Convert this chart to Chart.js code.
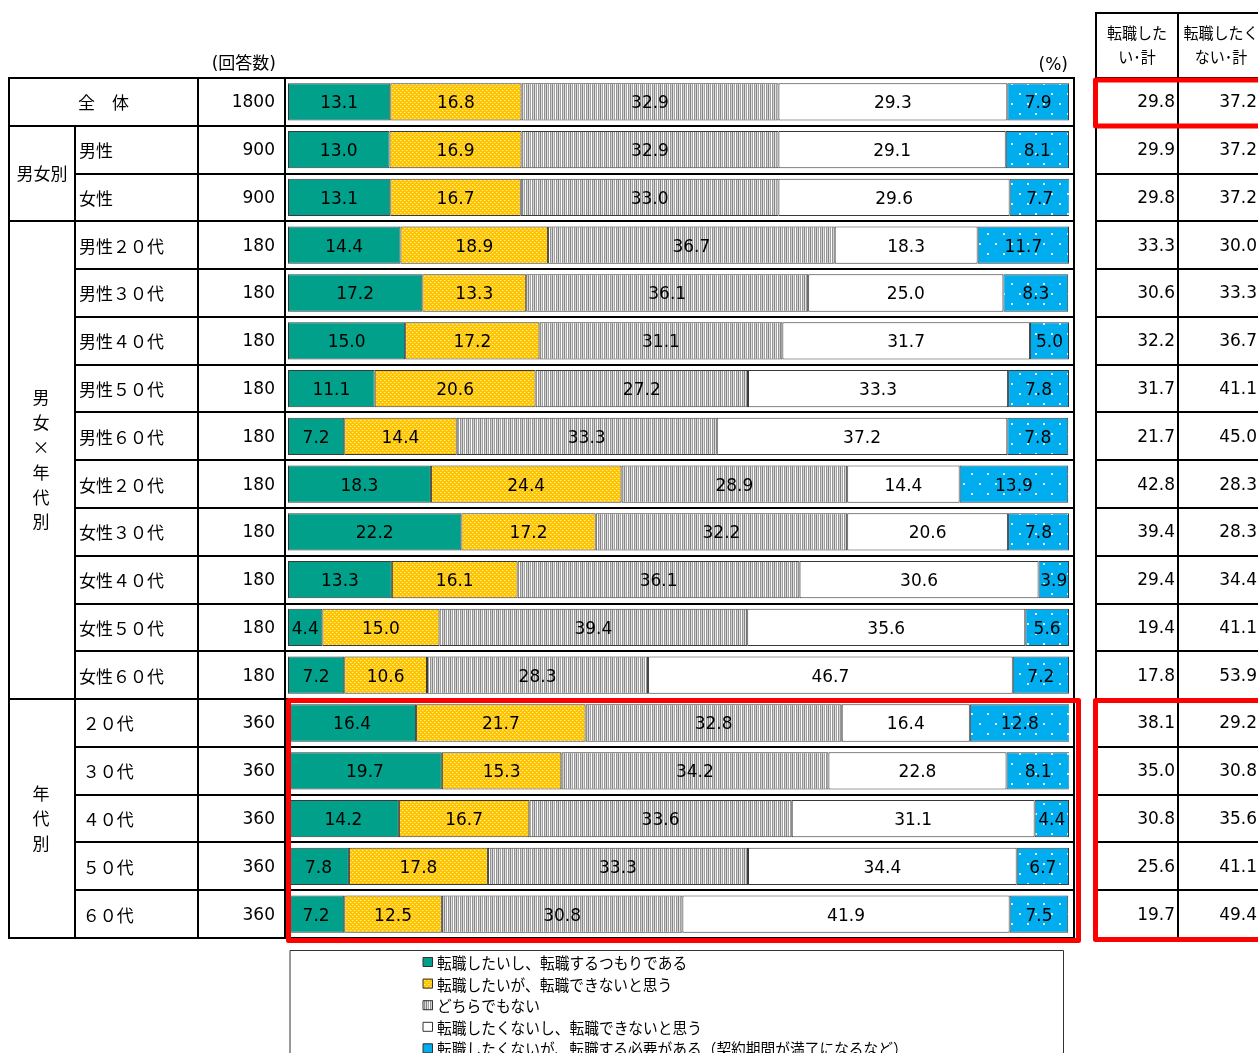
<!DOCTYPE html>
<html>
<head>
<meta charset="utf-8">
<script src="https://cdn.jsdelivr.net/npm/chart.js@4.4.1/dist/chart.umd.min.js"></script>
<style>
  html, body { margin: 0; padding: 0; background: #fff; overflow: hidden; }
  canvas { display: block; }
</style>
</head>
<body>
<canvas id="c" width="1258" height="1053"></canvas>
<script>
// ---- survey data -------------------------------------------------------
const rowLabels = ['全　体', '男性', '女性',
  '男性２０代', '男性３０代', '男性４０代', '男性５０代', '男性６０代',
  '女性２０代', '女性３０代', '女性４０代', '女性５０代', '女性６０代',
  ' ２０代', ' ３０代', ' ４０代', ' ５０代', ' ６０代'];
const respondents = [1800, 900, 900, 180, 180, 180, 180, 180, 180, 180, 180, 180, 180, 360, 360, 360, 360, 360];

const seriesLabels = [
  '転職したいし、転職するつもりである',
  '転職したいが、転職できないと思う',
  'どちらでもない',
  '転職したくないし、転職できないと思う',
  '転職したくないが、転職する必要がある（契約期間が満了になるなど）'
];
const wantAndWill      = [13.1, 13.0, 13.1, 14.4, 17.2, 15.0, 11.1, 7.2, 18.3, 22.2, 13.3, 4.4, 7.2, 16.4, 19.7, 14.2, 7.8, 7.2];
const wantButCannot    = [16.8, 16.9, 16.7, 18.9, 13.3, 17.2, 20.6, 14.4, 24.4, 17.2, 16.1, 15.0, 10.6, 21.7, 15.3, 16.7, 17.8, 12.5];
const neither          = [32.9, 32.9, 33.0, 36.7, 36.1, 31.1, 27.2, 33.3, 28.9, 32.2, 36.1, 39.4, 28.3, 32.8, 34.2, 33.6, 33.3, 30.8];
const notWantCannot    = [29.3, 29.1, 29.6, 18.3, 25.0, 31.7, 33.3, 37.2, 14.4, 20.6, 30.6, 35.6, 46.7, 16.4, 22.8, 31.1, 34.4, 41.9];
const notWantButMust   = [7.9, 8.1, 7.7, 11.7, 8.3, 5.0, 7.8, 7.8, 13.9, 7.8, 3.9, 5.6, 7.2, 12.8, 8.1, 4.4, 6.7, 7.5];

const wantTotal    = [29.8, 29.9, 29.8, 33.3, 30.6, 32.2, 31.7, 21.7, 42.8, 39.4, 29.4, 19.4, 17.8, 38.1, 35.0, 30.8, 25.6, 19.7];
const notWantTotal = [37.2, 37.2, 37.2, 30.0, 33.3, 36.7, 41.1, 45.0, 28.3, 28.3, 34.4, 41.1, 53.9, 29.2, 30.8, 35.6, 41.1, 49.4];
const totalHeaders = [['転職した', 'い･計'], ['転職したく', 'ない･計']];

const groupLabels = [
  { text: '男女別', first: 1, last: 2, vertical: false },
  { text: '男女×年代別', first: 3, last: 12, vertical: true },
  { text: '年代別', first: 13, last: 17, vertical: true }
];
const countHeader = '(回答数)';
const unitHeader = '(%)';

// ---- fills ---------------------------------------------------------------
const mainCtx = document.getElementById('c').getContext('2d');
function makePattern(w, h, draw) {
  const t = document.createElement('canvas');
  t.width = w; t.height = h;
  draw(t.getContext('2d'));
  return mainCtx.createPattern(t, 'repeat');
}
const greenFill = '#00A08A';
const yellowFill = makePattern(4, 4, g => {
  g.fillStyle = '#FFC400'; g.fillRect(0, 0, 4, 4);
  g.fillStyle = '#FFEFA8'; g.fillRect(0, 0, 1, 1); g.fillRect(2, 2, 1, 1);
  g.fillStyle = '#FFD845'; g.fillRect(1, 0, 1, 1); g.fillRect(3, 2, 1, 1);
});
const stripeFill = makePattern(6, 1, g => {
  const cols = ['#858585', '#e2e2e2', '#a0a0a0', '#ffffff', '#939393', '#d2d2d2'];
  cols.forEach((c, i) => { g.fillStyle = c; g.fillRect(i, 0, 1, 1); });
});
const whiteFill = '#ffffff';
const blueFill = makePattern(16, 20, g => {
  g.fillStyle = '#00AEEF'; g.fillRect(0, 0, 16, 20);
  g.fillStyle = '#E4F7FF'; g.fillRect(3, 3, 2, 2); g.fillRect(11, 13, 2, 2);
});
const fills = [greenFill, yellowFill, stripeFill, whiteFill, blueFill];
const seriesValues = [wantAndWill, wantButCannot, neither, notWantCannot, notWantButMust];

// ---- fonts ---------------------------------------------------------------
const NUM_FONT = '17px "DejaVu Sans", "Noto Sans CJK JP", sans-serif';
const JP_FONT = '17px "Noto Sans CJK JP", sans-serif';
const JP_SMALL = '16px "Noto Sans CJK JP", sans-serif';

// ---- table, labels and frames drawn around the bars ----------------------
const COL = { x0: 9, x1: 75, x2: 198, x3: 285, x4: 1074 };
const RT = { x0: 1096, x1: 1178, x2: 1262, top: 13 };

function hline(ctx, x1, x2, y) { ctx.beginPath(); ctx.moveTo(x1, y); ctx.lineTo(x2, y); ctx.stroke(); }
function vline(ctx, x, y1, y2) { ctx.beginPath(); ctx.moveTo(x, y1); ctx.lineTo(x, y2); ctx.stroke(); }

const valueLabels = {
  id: 'valueLabels',
  afterDatasetsDraw(chart) {
    const ctx = chart.ctx;
    ctx.save();
    ctx.font = NUM_FONT;
    ctx.fillStyle = '#000';
    ctx.textAlign = 'center';
    ctx.textBaseline = 'middle';
    chart.data.datasets.forEach((ds, di) => {
      chart.getDatasetMeta(di).data.forEach((bar, i) => {
        const cx = (bar.x + bar.base) / 2;
        ctx.fillText(ds.data[i].toFixed(1), cx, bar.y + 2);
      });
    });
    ctx.restore();
  }
};

const surveyTable = {
  id: 'surveyTable',
  afterDraw(chart) {
    const ctx = chart.ctx;
    const ys = chart.scales.y;
    const n = rowLabels.length;
    const step = ys.getPixelForValue(1) - ys.getPixelForValue(0);
    const edge = k => Math.round(ys.getPixelForValue(0) - step / 2 + k * step);
    const mid = i => ys.getPixelForValue(i);

    ctx.save();
    ctx.strokeStyle = '#000';
    ctx.lineWidth = 2;
    ctx.lineCap = 'square';

    // left table grid
    const groupStarts = new Set([0, 1, ...groupLabels.map(g => g.first), n]);
    for (let k = 0; k <= n; k++) {
      hline(ctx, groupStarts.has(k) ? COL.x0 : COL.x1, COL.x4, edge(k));
    }
    vline(ctx, COL.x0, edge(0), edge(n));
    vline(ctx, COL.x1, edge(1), edge(n));
    vline(ctx, COL.x2, edge(0), edge(n));
    vline(ctx, COL.x3, edge(0), edge(n));
    vline(ctx, COL.x4, edge(0), edge(n));

    // right table grid
    hline(ctx, RT.x0, RT.x2, RT.top);
    for (let k = 0; k <= n; k++) hline(ctx, RT.x0, RT.x2, edge(k));
    vline(ctx, RT.x0, RT.top, edge(n));
    vline(ctx, RT.x1, RT.top, edge(n));

    ctx.fillStyle = '#000';
    ctx.textBaseline = 'middle';

    // headers
    ctx.font = NUM_FONT;
    ctx.textAlign = 'right';
    ctx.fillText(countHeader, 276, 65);
    ctx.fillText(unitHeader, 1068, 66);
    ctx.font = JP_SMALL;
    ctx.textAlign = 'center';
    const hx = [(RT.x0 + RT.x1) / 2, (RT.x1 + RT.x2) / 2 + 1];
    totalHeaders.forEach((lines, c) => {
      ctx.save();
      ctx.translate(hx[c], 33);
      ctx.scale(0.94, 1);
      ctx.fillText(lines[0], 0, 0);
      ctx.fillText(lines[1], 0, 24);
      ctx.restore();
    });

    // row labels, counts and totals
    for (let i = 0; i < n; i++) {
      const y = mid(i) + 1;
      ctx.font = JP_FONT;
      if (i === 0) {
        ctx.textAlign = 'center';
        ctx.fillText(rowLabels[i], (COL.x0 + COL.x2) / 2, y);
      } else {
        ctx.textAlign = 'left';
        ctx.fillText(rowLabels[i], 79, y);
      }
      ctx.font = NUM_FONT;
      ctx.textAlign = 'right';
      ctx.fillText(String(respondents[i]), 275, y);
      ctx.fillText(wantTotal[i].toFixed(1), 1175, y);
      ctx.fillText(notWantTotal[i].toFixed(1), 1257, y);
    }

    // group labels in the first column
    ctx.font = JP_FONT;
    ctx.textAlign = 'center';
    groupLabels.forEach(g => {
      const cy = (edge(g.first) + edge(g.last + 1)) / 2;
      if (!g.vertical) {
        ctx.fillText(g.text, (COL.x0 + COL.x1) / 2, cy);
      } else {
        const chars = Array.from(g.text);
        const gap = 24.8;
        chars.forEach((ch, j) => {
          ctx.fillText(ch, 41, cy + (j - (chars.length - 1) / 2) * gap);
        });
      }
    });

    // red highlight frames
    ctx.strokeStyle = '#FF0000';
    ctx.lineWidth = 5;
    ctx.lineJoin = 'round';
    ctx.strokeRect(1095.5, edge(0) + 2, 170, edge(1) - edge(0) - 2);
    ctx.strokeRect(288.5, edge(13) + 1.5, 790, edge(18) - edge(13) + 1);
    ctx.strokeRect(1095.5, edge(13) + 1.5, 170, edge(18) - edge(13));

    // legend box
    ctx.strokeStyle = '#333';
    ctx.lineWidth = 1;
    ctx.strokeRect(290.5, 950.5, 773, 140);
    chart.data.datasets.forEach((ds, di) => {
      const ly = 962 + di * 21.6;
      ctx.fillStyle = ds.backgroundColor;
      ctx.fillRect(423, ly - 5, 10, 10);
      ctx.strokeStyle = '#333';
      ctx.strokeRect(423.5, ly - 4.5, 9, 9);
      ctx.save();
      ctx.fillStyle = '#000';
      ctx.font = JP_SMALL;
      ctx.textAlign = 'left';
      ctx.translate(437, ly + 1);
      ctx.scale(0.92, 1);
      ctx.fillText(ds.label, 0, 0);
      ctx.restore();
    });

    ctx.restore();
  }
};

new Chart(mainCtx, {
  type: 'bar',
  data: {
    labels: rowLabels,
    datasets: seriesLabels.map((label, i) => ({
      label,
      data: seriesValues[i],
      backgroundColor: fills[i],
      borderColor: '#3a3a3a',
      borderWidth: 1,
      borderSkipped: false,
      barPercentage: 0.78,
      categoryPercentage: 1
    }))
  },
  options: {
    indexAxis: 'y',
    responsive: false,
    animation: false,
    devicePixelRatio: 1,
    layout: { padding: { left: 288, right: 189, top: 78, bottom: 115 } },
    scales: {
      x: { stacked: true, min: 0, max: 100, display: false },
      y: { stacked: true, display: false }
    },
    plugins: { legend: { display: false }, tooltip: { enabled: false } }
  },
  plugins: [valueLabels, surveyTable]
});
</script>
</body>
</html>
